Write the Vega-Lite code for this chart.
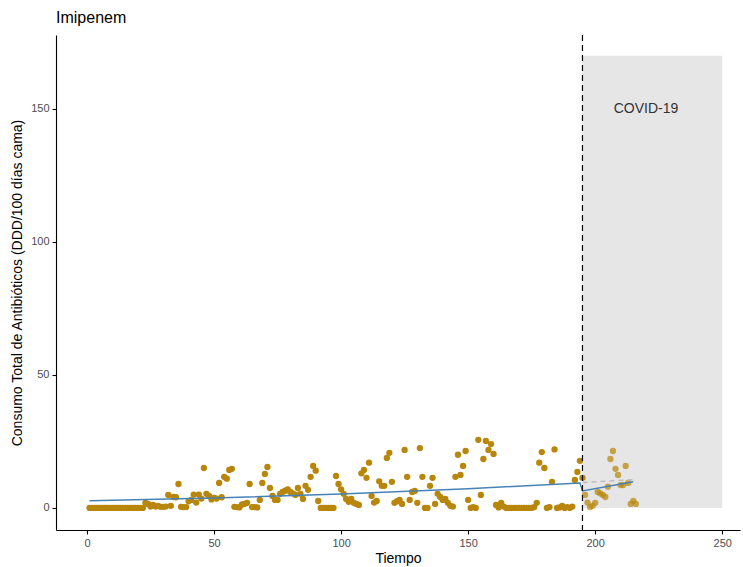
{
  "$schema": "https://vega.github.io/schema/vega-lite/v6.json",
  "width": 684,
  "height": 495,
  "autosize": "none",
  "padding": {"left": 56, "top": 35, "right": 3, "bottom": 37},
  "background": "white",
  "title": {"text": "Imipenem", "anchor": "start", "frame": "group", "fontSize": 16, "fontWeight": "normal", "font": "Liberation Sans", "color": "black", "offset": 8},
  "config": {
    "view": {"stroke": null},
    "axis": {"grid": false, "domainColor": "black", "tickColor": "black", "domainWidth": 1.1, "tickWidth": 1.1, "tickSize": 4, "labelColor": "#4D4D4D", "labelFontSize": 11, "labelFont": "Liberation Sans", "titleFont": "Liberation Sans", "titleFontSize": 14, "titleFontWeight": "normal", "titleColor": "black"}
  },
  "datasets": {
    "obs": [
      {"t":1,"v":0},{"t":2,"v":0},{"t":3,"v":0},{"t":4,"v":0},{"t":5,"v":0},{"t":6,"v":0},{"t":7,"v":0},{"t":8,"v":0},{"t":9,"v":0},{"t":10,"v":0},
      {"t":11,"v":0},{"t":12,"v":0},{"t":13,"v":0},{"t":14,"v":0},{"t":15,"v":0},{"t":16,"v":0},{"t":17,"v":0},{"t":18,"v":0},{"t":19,"v":0},{"t":20,"v":0},
      {"t":21,"v":0},{"t":22,"v":0},{"t":23,"v":1.9},{"t":24,"v":1.5},{"t":25,"v":0.5},{"t":26,"v":1.1},{"t":27,"v":0.5},{"t":28,"v":0.8},{"t":29,"v":0.4},{"t":30,"v":0.4},
      {"t":31,"v":0.5},{"t":32,"v":4.9},{"t":33,"v":0.8},{"t":34,"v":4.1},{"t":35,"v":4},{"t":36,"v":9},{"t":37,"v":0.4},{"t":38,"v":0.3},{"t":39,"v":0.3},{"t":40,"v":2.5},
      {"t":41,"v":3},{"t":42,"v":5},{"t":43,"v":2},{"t":44,"v":5},{"t":45,"v":3.5},{"t":46,"v":15},{"t":47,"v":5.3},{"t":48,"v":4.5},{"t":49,"v":3.2},{"t":50,"v":3.8},
      {"t":51,"v":3.5},{"t":52,"v":9.4},{"t":53,"v":4},{"t":54,"v":11.7},{"t":55,"v":11},{"t":56,"v":14.3},{"t":57,"v":14.7},{"t":58,"v":0.4},{"t":59,"v":0.3},{"t":60,"v":0.2},
      {"t":61,"v":1.3},{"t":62,"v":1.5},{"t":63,"v":1.9},{"t":64,"v":9},{"t":65,"v":0.3},{"t":66,"v":0.3},{"t":67,"v":0.2},{"t":68,"v":3},{"t":69,"v":9.4},{"t":70,"v":12.8},
      {"t":71,"v":15.4},{"t":72,"v":7.5},{"t":73,"v":4.5},{"t":74,"v":3},{"t":75,"v":3},{"t":76,"v":5.3},{"t":77,"v":6},{"t":78,"v":6.5},{"t":79,"v":7},{"t":80,"v":6},
      {"t":81,"v":5.5},{"t":82,"v":4.9},{"t":83,"v":7.5},{"t":84,"v":5.3},{"t":85,"v":3.4},{"t":86,"v":8.3},{"t":87,"v":6.8},{"t":88,"v":11.7},{"t":89,"v":15.8},{"t":90,"v":14},
      {"t":91,"v":2.6},{"t":92,"v":0},{"t":93,"v":0},{"t":94,"v":0},{"t":95,"v":0},{"t":96,"v":0},{"t":97,"v":0},{"t":98,"v":12},{"t":99,"v":9},{"t":100,"v":7},
      {"t":101,"v":5.3},{"t":102,"v":3.4},{"t":103,"v":2.3},{"t":104,"v":3.4},{"t":105,"v":1.9},{"t":106,"v":1.5},{"t":107,"v":1.1},{"t":108,"v":13},{"t":109,"v":14.3},{"t":110,"v":11.3},
      {"t":111,"v":17},{"t":112,"v":4.5},{"t":113,"v":2},{"t":114,"v":2.6},{"t":115,"v":10},{"t":116,"v":8.3},{"t":117,"v":8.3},{"t":118,"v":18.8},{"t":119,"v":20.7},{"t":120,"v":9.8},
      {"t":121,"v":1.9},{"t":122,"v":2.5},{"t":123,"v":3},{"t":124,"v":1.5},{"t":125,"v":21.8},{"t":126,"v":11.7},{"t":127,"v":3},{"t":128,"v":6},{"t":129,"v":6.4},{"t":130,"v":1.9},
      {"t":131,"v":22.5},{"t":132,"v":11.7},{"t":133,"v":0},{"t":134,"v":0},{"t":135,"v":8.3},{"t":136,"v":11.3},{"t":137,"v":1.5},{"t":138,"v":5.3},{"t":139,"v":4.1},{"t":140,"v":3},
      {"t":141,"v":3.4},{"t":142,"v":1.9},{"t":143,"v":0.8},{"t":144,"v":0.5},{"t":145,"v":11.7},{"t":146,"v":20},{"t":147,"v":12.4},{"t":148,"v":15.8},{"t":149,"v":21.4},{"t":150,"v":3},
      {"t":151,"v":0},{"t":152,"v":0.3},{"t":153,"v":0},{"t":154,"v":25.6},{"t":155,"v":4.9},{"t":156,"v":18.4},{"t":157,"v":25.2},{"t":158,"v":21.8},{"t":159,"v":24},{"t":160,"v":20.3},
      {"t":161,"v":1.1},{"t":162,"v":0.2},{"t":163,"v":1.9},{"t":164,"v":0.5},{"t":165,"v":0},{"t":166,"v":0},{"t":167,"v":0},{"t":168,"v":0},{"t":169,"v":0},{"t":170,"v":0},
      {"t":171,"v":0},{"t":172,"v":0},{"t":173,"v":0},{"t":174,"v":0},{"t":175,"v":0},{"t":176,"v":0.3},{"t":177,"v":1.9},{"t":178,"v":17},{"t":179,"v":21},{"t":180,"v":15},
      {"t":181,"v":0},{"t":182,"v":0.3},{"t":183,"v":9.8},{"t":184,"v":22},{"t":185,"v":0},{"t":186,"v":0.2},{"t":187,"v":0.8},{"t":188,"v":0},{"t":189,"v":0.3},{"t":190,"v":0},
      {"t":191,"v":0.5},{"t":192,"v":10.5},{"t":193,"v":13.5},{"t":194,"v":17.7},{"t":195,"v":11.3},
      {"t":196,"v":4.9,"post":1},{"t":197,"v":2,"post":1},{"t":198,"v":0.3,"post":1},{"t":199,"v":0.8,"post":1},{"t":200,"v":1.9,"post":1},
      {"t":201,"v":6,"post":1},{"t":202,"v":5.5,"post":1},{"t":203,"v":4.9,"post":1},{"t":204,"v":4.1,"post":1},{"t":205,"v":8,"post":1},{"t":206,"v":18.4,"post":1},{"t":207,"v":21.4,"post":1},{"t":208,"v":14.7,"post":1},{"t":209,"v":12.4,"post":1},{"t":210,"v":8.6,"post":1},
      {"t":211,"v":8.6,"post":1},{"t":212,"v":15.8,"post":1},{"t":213,"v":9.4,"post":1},{"t":214,"v":1.5,"post":1},{"t":215,"v":2.6,"post":1},{"t":216,"v":1.5,"post":1}
    ],
    "fit": [
      {"t":1,"v":2.7},{"t":50,"v":3.7},{"t":100,"v":5.2},{"t":150,"v":7.2},{"t":194,"v":9.4},{"t":195,"v":6.4},{"t":215,"v":9.8}
    ],
    "cf": [
      {"t":195,"v":9.6},{"t":215,"v":10.6}
    ],
    "covid": [
      {"x1":195,"x2":250,"y1":0,"y2":170,"vline":195,"lx":220,"ly":150,"label":"COVID-19"}
    ]
  },
  "layer": [
    {
      "data": {"name": "covid"},
      "mark": {"type": "rect", "fill": "#E6E6E6"},
      "encoding": {
        "x": {"field": "x1", "type": "quantitative", "scale": {"domain": [-12.2, 257], "nice": false, "zero": false}, "axis": {"values": [0,50,100,150,200,250], "title": "Tiempo", "labelPadding": 3, "titlePadding": 3}},
        "x2": {"field": "x2"},
        "y": {"field": "y1", "type": "quantitative", "scale": {"domain": [-8.3, 177.8], "nice": false, "zero": false}, "axis": {"values": [0,50,100,150], "title": "Consumo Total de Antibióticos (DDD/100 días cama)", "labelPadding": 3, "titlePadding": 6}},
        "y2": {"field": "y2"}
      }
    },
    {
      "data": {"name": "obs"},
      "mark": {"type": "circle", "size": 40, "color": "#B8860B"},
      "encoding": {
        "x": {"field": "t", "type": "quantitative"},
        "y": {"field": "v", "type": "quantitative"},
        "opacity": {"condition": {"test": "datum.post == 1", "value": 0.72}, "value": 1}
      }
    },
    {
      "data": {"name": "cf"},
      "mark": {"type": "line", "color": "#BDBDBD", "strokeWidth": 1.5, "strokeDash": [5, 4]},
      "encoding": {
        "x": {"field": "t", "type": "quantitative"},
        "y": {"field": "v", "type": "quantitative"}
      }
    },
    {
      "data": {"name": "fit"},
      "mark": {"type": "line", "color": "#4682B4", "strokeWidth": 1.5},
      "encoding": {
        "x": {"field": "t", "type": "quantitative"},
        "y": {"field": "v", "type": "quantitative"}
      }
    },
    {
      "data": {"name": "covid"},
      "mark": {"type": "rule", "color": "black", "strokeWidth": 1.2, "strokeDash": [6, 4]},
      "encoding": {
        "x": {"field": "vline", "type": "quantitative"}
      }
    },
    {
      "data": {"name": "covid"},
      "mark": {"type": "text", "font": "Liberation Sans", "fontSize": 14, "color": "#333333"},
      "encoding": {
        "x": {"field": "lx", "type": "quantitative"},
        "y": {"field": "ly", "type": "quantitative"},
        "text": {"field": "label"}
      }
    }
  ]
}
